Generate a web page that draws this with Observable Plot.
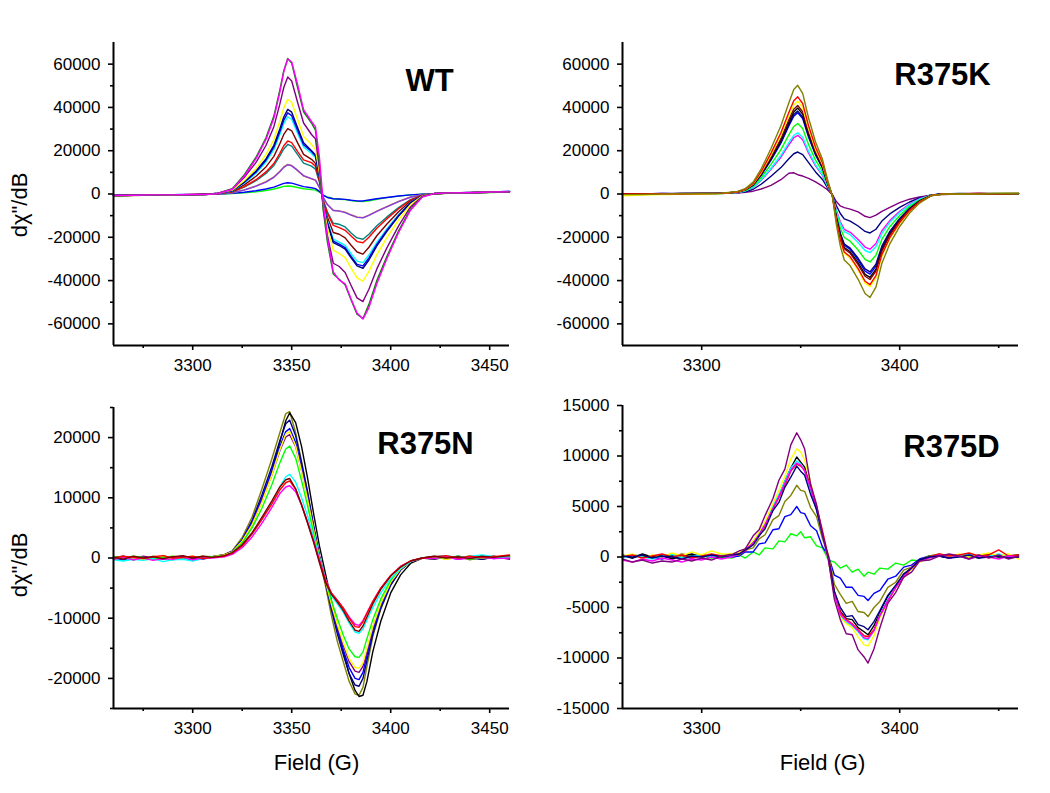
<!DOCTYPE html>
<html>
<head>
<meta charset="utf-8">
<script src="https://cdn.jsdelivr.net/npm/d3@7"></script>
<script src="https://cdn.jsdelivr.net/npm/@observablehq/plot@0.6"></script>
<style>
  html, body { margin: 0; padding: 0; background: #ffffff; }
  #fig { position: relative; width: 1050px; height: 793px; overflow: hidden; background: #fff; }
  .panel { position: absolute; }
</style>
</head>
<body>
<div id="fig"></div>
<script>
// ---------------- DATA (signal values in units of 1000, i.e. ×10^3 dχ"/dB) ----------------

// ---- WT ----
const wtField = [3260,3270,3280,3290,3300,3306, 3312,3320,3326,3332,3337,3341,3344,3346,3348,3350,3353,3356,3360,3362,3364,3366,3368,3371,3374,3377,3380,3383,3386,3389,3393,3398,3404,3410,3416,3422, 3430,3440,3450,3460];
const wtGreen   = [-0.8,-0.6,-0.5,-0.4,-0.3,-0.2, 0.2,2.5,8.8,17,26,36,48,57,62.6,60.5,49,38,32.8,29.5,14,-8,-22,-37,-39.4,-42,-49,-55.5,-57.5,-51,-40,-29,-17,-7,-1.2,0.2, 0.4,0.6,0.8,1.0];
const wtMagenta = [-0.7,-0.6,-0.4,-0.4,-0.2,-0.2, 0.1,2.2,8.2,16.3,25.2,35,47,56.5,62.4,61,50.5,39,33.5,31,17,-5,-20,-36,-39.8,-41.5,-48.5,-55,-57.8,-52.5,-41.5,-30,-17.8,-7.5,-1.4,0.2, 0.5,0.6,0.9,1.0];
const wtPurple  = [-0.8,-0.6,-0.5,-0.3,-0.3,-0.1, 0.2,2.2,7.6,14.6,22.4,31.1,41.5,49.2,54.1,52.2,42.3,32.8,27.5,25.5,12,-7,-19,-32,-33.5,-36.3,-42.3,-48,-49.7,-44,-34.6,-25,-14.7,-6,-1,0.2, 0.5,0.6,0.8,0.9];
const wtYellow  = [-0.9,-0.7,-0.5,-0.4,-0.2,-0.2, 0.2,1.8,6.1,11.8,18.2,25.2,33.6,39.8,43.8,42.3,34.3,26.6,22.9,20.6,9.8,-5.6,-15.4,-25.9,-27.5,-29.4,-34.3,-38.8,-40.2,-35.7,-28,-20.3,-11.9,-4.9,-0.8,0.2, 0.4,0.7,0.8,1.0];
const wtNavy    = [-0.7,-0.6,-0.4,-0.4,-0.3,-0.1, 0.2,1.6,5.5,10.6,16.2,22.5,30,35.6,39.1,37.8,30.6,23.7,20,18,8.5,-5,-13.5,-22.5,-23.8,-25.5,-29.5,-33.2,-34.3,-30.5,-24,-17.4,-10.2,-4.2,-0.7,0.2, 0.5,0.6,0.9,1.1];
const wtBlue    = [-0.8,-0.5,-0.5,-0.3,-0.2,-0.2, 0.2,1.5,5.3,10.1,15.6,21.6,28.8,34.1,37.5,36.2,29.4,22.8,19.6,17.6,8.4,-4.8,-13,-21.8,-23.2,-24.8,-28.8,-32.5,-33.2,-29.5,-23.3,-16.8,-9.9,-4,-0.7,0.2, 0.4,0.7,0.9,1.2];
const wtCyan    = [-0.8,-0.6,-0.5,-0.4,-0.3,-0.2, 0.2,1.4,5,9.6,14.8,20.5,27.4,32.5,35.7,34.5,28,21.7,18.7,16.8,8,-4.5,-12.4,-20.8,-22.2,-23.7,-27.6,-31,-31.7,-28.2,-22.3,-16.2,-9.5,-3.9,-0.7,0.2, 0.4,0.6,0.8,1.0];
const wtBrown   = [-0.7,-0.6,-0.4,-0.3,-0.3,-0.1, 0.1,1.2,4.2,8.2,12.5,17.4,23.2,27.5,30.2,29.2,23.6,18.3,16,14.2,6.8,-3.9,-10.6,-17.8,-18.6,-20.3,-23.7,-26.8,-27.8,-24.6,-19.3,-14,-8.2,-3.4,-0.6,0.1, 0.4,0.6,0.8,1.0];
const wtRed     = [-0.8,-0.6,-0.5,-0.4,-0.2,-0.2, 0.1,1,3.4,6.6,10.2,14.1,18.8,22.3,24.5,23.7,19.6,15.8,14.5,12.8,6,-3.2,-8.8,-14.5,-15.5,-16.8,-19.4,-22,-22.5,-20,-15.8,-11.5,-6.8,-2.8,-0.5,0.1, 0.4,0.6,0.8,1.0];
const wtTeal    = [-0.8,-0.6,-0.5,-0.4,-0.3,-0.2, 0.1,0.9,3.2,6.2,9.5,13.2,17.6,20.8,22.9,22.1,18.2,14.3,12.9,11.5,5.4,-3,-8.2,-13.5,-14,-15.2,-18,-20.3,-20.9,-18.6,-14.7,-10.7,-6.3,-2.6,-0.5,0.1, 0.4,0.6,0.8,0.9];
const wtOrange  = [-0.8,-0.6,-0.5,-0.4,-0.3,-0.2, 0.1,0.6,1.9,3.7,5.7,7.9,10.5,12.5,13.7,13.2,10.8,8.3,7,6.3,3,-1.8,-4.8,-7.5,-7.8,-8.4,-9.6,-10.6,-10.9,-9.8,-7.9,-5.8,-3.4,-1.4,-0.3,0.1, 0.4,0.6,0.8,1.0];
const wtViolet  = [-0.9,-0.7,-0.5,-0.4,-0.3,-0.2, 0.1,0.6,1.8,3.6,5.5,7.7,10.3,12.3,13.5,13,10.9,8.5,7.1,6.4,3.1,-1.7,-4.9,-7.6,-7.9,-8.6,-9.8,-10.8,-11,-9.9,-8,-5.9,-3.5,-1.5,-0.3,0.1, 0.5,0.7,0.9,1.1];
const wtBlue2   = [-0.6,-0.5,-0.4,-0.3,-0.2,-0.1, 0,0.3,0.8,1.5,2.3,3.2,4.2,4.9,5.2,5,4.2,3.4,2.9,2.5,1.2,-0.6,-1.6,-2.2,-2.3,-2.5,-2.9,-3.2,-3.2,-2.8,-2.2,-1.6,-0.9,-0.4,-0.1,0.1, 0.5,0.7,0.9,1.2];
const wtGreen2  = [-0.7,-0.6,-0.5,-0.4,-0.3,-0.2, 0,0.2,0.5,1,1.6,2.3,3,3.5,3.7,3.6,3,2.4,2,1.8,0.9,-0.5,-1.4,-2.2,-2.4,-2.6,-3,-3.4,-3.5,-3.1,-2.4,-1.7,-1,-0.4,-0.1,0.1, 0.3,0.5,0.7,0.9];

// ---- R375K ----
const kField = [3260,3270,3280,3290,3300,3310, 3318,3322,3326,3330,3335,3340,3344,3346.5,3348.5,3351,3354,3357.5,3361,3363.5,3366,3368,3370,3372,3375,3379,3382.5,3385,3388,3391,3395,3400,3405,3410,3416, 3422,3430,3440,3450,3460];
const kOlive   = [-0.3,-0.2,0,0.1,0.2,0.4, 1.2,2.5,5.5,11.5,21,31.5,42,48.3,50.2,46.5,35,24,16,6.8,-1,-14,-24,-30.5,-33.2,-39.4,-46,-47.8,-43,-32,-23,-15,-8.8,-4.2,-0.8, 0,0.1,0,0.2,0.2];
const kRed     = [-0.1,0,0.1,0,0.2,0.3, 1.0,2.2,4.9,10.3,18.9,28.3,37.7,43.1,44.9,41.8,31.4,21.6,14.4,6,-0.9,-12.3,-21.1,-26.8,-29,-34.5,-40.3,-41.9,-37.7,-28,-20.2,-13.2,-7.7,-3.7,-0.7, 0,0.1,0.2,0.1,0.3];
const kYellow  = [-0.8,-0.5,-0.3,-0.1,0,0.2, 1,2.1,4.7,9.8,18,27,36,41.1,42.9,39.9,30,20.6,13.7,5.8,-0.9,-12.6,-21.6,-27.4,-29.7,-35.3,-41.2,-42.8,-38.6,-28.7,-20.6,-13.5,-7.9,-3.8,-0.7, -0.1,0,0.1,0.3,0.2];
const kBrown   = [0,0.1,0,0.2,0.1,0.3, 0.9,2,4.5,9.4,17.1,25.7,34.3,39.2,40.9,38,28.5,19.6,13,5.5,-0.8,-11.6,-19.9,-25.3,-27.4,-32.6,-38,-39.5,-35.6,-26.4,-19,-12.4,-7.3,-3.5,-0.7, 0.1,0,0.2,0.1,0.1];
const kBlack   = [-0.2,0,0.1,0.1,0.2,0.3, 0.9,2,4.3,9.1,16.6,24.9,33.2,37.9,39.7,36.9,27.8,19,12.6,5.3,-0.8,-11.3,-19.4,-24.7,-26.7,-31.8,-37.1,-38.5,-34.7,-25.8,-18.5,-12.1,-7.1,-3.4,-0.6, 0,0.1,0,0.2,0.1];
const kNavy    = [-0.1,0.1,0,0.2,0.2,0.3, 0.9,1.9,4.2,8.8,16,24.1,32.1,36.7,38.3,35.6,26.8,18.4,12.2,5.2,-0.8,-10.6,-18.1,-23.1,-25,-29.7,-34.6,-36,-32.4,-24.1,-17.3,-11.3,-6.6,-3.2,-0.6, 0,0.1,0.1,0,0.2];
const kBlue    = [0,0,0.2,0.1,0.3,0.3, 0.9,1.9,4.1,8.6,15.7,23.5,31.4,35.9,37.5,34.9,26.2,18,12,5,-0.8,-10.9,-18.6,-23.7,-25.6,-30.5,-35.6,-37,-33.3,-24.8,-17.8,-11.6,-6.8,-3.3,-0.6, 0.1,0,0.2,0.1,0.2];
const kGreen   = [-0.2,-0.1,0,0.1,0.1,0.2, 0.8,1.6,3.6,7.5,13.7,20.5,27.3,31.2,32.6,30.3,22.8,15.6,10.4,4.4,-0.7,-9.2,-15.8,-20.1,-21.8,-25.9,-30.2,-31.4,-28.3,-21,-15.1,-9.9,-5.8,-2.8,-0.5, 0,0.1,0,0.1,0.2];
const kCyan    = [-0.1,0,0.1,0,0.2,0.2, 0.7,1.4,3.1,6.5,11.9,17.8,23.7,27.1,28.3,26.2,19.7,13.5,9,3.8,-0.6,-8,-13.7,-17.4,-18.8,-22.4,-26.1,-27.1,-24.4,-18.2,-13.1,-8.5,-5,-2.4,-0.5, 0.1,0,0.1,0.2,0.1];
const kMagenta = [-0.2,-0.1,0,0.1,0.1,0.2, 0.6,1.4,3,6.2,11.4,17,22.7,26,27.1,25.1,18.9,13,8.6,3.6,-0.5,-7.5,-12.8,-16.3,-17.7,-21,-24.5,-25.5,-22.9,-17,-12.3,-8,-4.7,-2.2,-0.4, 0,0.1,0,0.1,0.1];
const kNavy2   = [0,0.1,0,0.2,0.1,0.3, 0.5,1,2.2,4.5,8.2,12.2,16.3,18.6,19.4,18.2,14.5,10.2,6.7,2.9,-0.4,-5.3,-9,-11.5,-12.5,-14.8,-17.3,-18,-16.3,-12.5,-9.2,-6.2,-3.7,-1.8,-0.4, 0,0.2,0.1,0,0.1];
const kPurple  = [0.1,0,0.2,0.1,0.3,0.3, 0.4,0.8,1.3,2.3,4,6.6,9.6,9.8,8.9,8.3,7.2,5.6,3.6,2,-0.3,-3.5,-5.5,-6.3,-7,-8.3,-10.3,-10.9,-9.8,-8,-6.2,-4,-2.4,-1.4,-0.5, -0.2,0,0.1,0,0.1];

// ---- R375N ----
const nField = [3260,3265,3270,3275,3280,3285,3290,3295,3300,3305, 3310,3316,3320,3325,3330,3335,3340,3344,3347,3349,3352,3355,3358,3361,3364,3367,3370,3373,3376,3379,3382,3384,3386,3388,3391,3395,3400,3405,3410,3416, 3422,3428,3434,3440,3446,3452,3460];
const nOlive   = [0.2,-0.3,0.1,-0.2,0.3,0,-0.3,0.2,-0.1,0.3, 0.2,0.6,1.2,3.4,6.8,11.5,16.5,20.8,24,24.3,20.8,16,11,5.2,-0.3,-4.5,-9.5,-13.8,-17.2,-20.5,-22.6,-22.8,-21.5,-18,-13,-8.5,-4.5,-2,-0.6,0, 0.3,-0.2,0.2,-0.3,0.1,0.3,-0.1];
const nBlack   = [0.1,0.3,-0.2,0.2,-0.1,0.3,0.1,-0.2,0.2,0, 0.1,0.4,0.9,2.6,5.5,9.5,14.5,19.2,22.8,24.1,22.5,18.5,13.3,7.5,2,-2.5,-7,-11.5,-15.5,-19.2,-22,-23,-22.8,-20.5,-15.5,-10.5,-5.8,-2.8,-0.9,0, -0.2,0.2,0,0.3,-0.2,0.1,0.2];
const nNavy    = [-0.2,0.1,-0.3,0,-0.2,0.2,-0.1,0.1,-0.3,0.1, 0.2,0.5,1.1,3,6.2,10.5,15.2,19.5,22.3,22.9,20.3,15.8,11,5.5,0.3,-4,-8.5,-12.5,-16,-19.2,-21.1,-21.3,-20,-17,-12.6,-8.3,-4.5,-2,-0.6,0, 0.2,-0.1,0.3,0,-0.2,0.2,0];
const nBlue    = [0,-0.3,0.2,-0.1,0.1,-0.2,0.2,0,0.1,-0.2, 0.2,0.5,1.1,3,6,10,14.5,18.5,21,21.5,19.2,15,10.4,5.2,0.3,-3.8,-8,-11.8,-15.2,-18.2,-20,-20.2,-19,-16.2,-12,-8,-4.3,-1.9,-0.6,0, -0.1,0.2,-0.2,0.1,0.3,-0.1,0.1];
const nPurple  = [0.1,0.2,-0.1,0.3,0,-0.2,0.1,0.3,-0.1,0.2, 0.2,0.5,1,2.8,5.6,9.5,13.8,17.8,20.1,20.5,18.5,14.5,10,5,0.3,-3.6,-7.6,-11.2,-14.4,-17.2,-18.8,-19,-18,-15.5,-11.5,-7.6,-4.1,-1.8,-0.6,0, 0.1,0.3,-0.1,0.2,0,0.3,-0.2];
const nYellow  = [-0.1,0.2,0,-0.3,0.1,0.2,-0.2,0,0.3,-0.1, 0.2,0.5,1,2.8,5.5,9.3,13.8,18,20.6,21,18.6,14.3,9.7,4.7,0,-3.8,-7.6,-11,-14,-16.7,-18.2,-18.3,-17.4,-15,-11.3,-7.5,-4,-1.8,-0.6,0, 0.2,-0.2,0.1,0.3,0,0.2,0.1];
const nGreen   = [0.2,0,0.3,0.1,-0.2,0.1,0.3,-0.1,0.1,0.2, 0.2,0.4,0.9,2.5,5,8.3,12.2,15.8,18.1,18.6,16.6,12.8,8.7,4.2,0,-3.5,-7,-10,-12.8,-15.1,-16.4,-16.5,-15.6,-13.4,-10.2,-6.8,-3.7,-1.6,-0.5,0, -0.1,0.1,0.3,-0.2,0.1,0,0.2];
const nCyan    = [-0.3,-0.5,-0.2,-0.4,-0.1,-0.6,-0.3,-0.2,-0.5,-0.1, 0.1,0.3,0.7,2,4,6.5,9.3,11.8,13.5,13.9,12.6,10,7,3.5,0,-3.5,-6.2,-7.6,-9,-10.8,-12.3,-12.5,-11.8,-10.3,-8.2,-5.8,-3.4,-1.7,-0.6,0, 0.2,0.4,0.1,0.3,0.5,0.2,0.1];
const nBrown   = [0.1,-0.2,0.3,0,0.2,-0.1,0.2,0.4,0,0.3, 0.1,0.4,0.9,2.2,4.2,6.8,9.5,11.8,13,13.2,11.5,8.8,5.8,2.7,-0.8,-4,-6,-7.3,-8.7,-10.5,-12,-12.2,-11.3,-9.8,-7.6,-5.2,-3,-1.5,-0.5,0, 0.3,0,0.2,-0.1,0.3,0.1,0.4];
const nRed     = [0,0.3,0.1,-0.1,0.2,0.4,0,0.1,0.3,-0.1, 0.1,0.3,0.8,2,4,6.4,9,11.3,12.5,12.8,11.4,8.8,5.9,2.8,-0.5,-3.7,-5.8,-7,-8.3,-10,-11.4,-11.5,-10.6,-9.2,-7.2,-5,-2.9,-1.4,-0.5,0, 0.2,0.4,0,0.3,0.1,0.2,0.5];
const nMagenta = [-0.2,0.1,-0.3,0,-0.4,-0.1,-0.2,0.1,-0.3,0, 0,0.2,0.6,1.7,3.5,5.8,8.4,10.7,11.8,12,11,8.8,6,3,-0.3,-3.5,-5.8,-7,-8.3,-9.8,-11,-11.2,-10.4,-9.1,-7.2,-5,-2.9,-1.4,-0.5,0, -0.1,0.2,-0.2,0,0.1,-0.1,0];

// ---- R375D ----
const dField = [3260,3265,3270,3275,3280,3285,3290,3295,3300,3305,3310,3315, 3319,3322,3326,3329,3332,3336,3339,3342,3345,3348,3350,3352,3355,3358,3361,3364,3367,3370,3373,3376,3379,3382,3384,3387,3390,3394,3398,3402,3406,3410,3415, 3420,3425,3430,3435,3440,3445,3450,3455,3460];
const dPurple  = [-0.2,-0.5,-0.3,-0.6,-0.4,-0.5,-0.2,-0.4,-0.1,-0.3,0.1,0.2, 0.6,0.8,2.1,2.7,4.1,5.8,7.6,8.7,11.1,12.3,11.6,10.7,7.2,5.2,2.3,-0.2,-4.2,-6.2,-7.6,-7.7,-9.2,-9.9,-10.5,-9.1,-7.0,-4.6,-3.5,-2.0,-1.5,-0.4,-0.3, 0.1,0.3,0.1,-0.2,0.2,-0.1,0.2,-0.2,0.1];
const dYellow  = [0.1,0.3,-0.2,0.2,0,0.4,0.1,0.5,0.2,0.6,0.3,0.3, 0.5,0.8,1.6,2.5,3.5,5.3,6.6,8.0,9.7,10.7,10.4,9.6,7.4,5.0,2.4,-0.4,-3.9,-6.0,-6.6,-7.0,-7.9,-8.7,-8.8,-7.8,-6.0,-4.4,-3.0,-2.0,-1.2,-0.5,-0.1, 0.2,0.1,0.3,0,0.2,0.4,0.1,0.3,-0.2];
const dBlack   = [0.2,-0.1,0.3,0,0.2,-0.2,0.1,0.3,0,0.2,0.1,0.3, 0.4,0.8,1.4,2.4,3.1,5.0,6.0,7.5,8.8,9.9,9.4,8.9,6.8,4.9,2.2,-0.2,-3.7,-5.4,-6.1,-6.2,-7.0,-7.4,-7.7,-6.8,-5.5,-3.9,-2.9,-1.7,-1.1,-0.3,0, 0.1,-0.1,0.2,0.1,-0.1,0.2,0,0.1,0.2];
const dCyan    = [-0.1,0.2,0,-0.2,0.1,0.3,-0.1,0.1,0.2,0,0.2,0.1, 0.4,0.8,1.6,2.4,3.4,5.1,6.2,7.5,8.8,9.5,9.2,8.5,6.7,4.6,2.2,-0.4,-3.8,-5.8,-6.5,-6.8,-7.4,-8.1,-8.2,-7.3,-5.7,-4.2,-2.9,-1.9,-1.1,-0.4,0, 0.2,0,0.1,0.3,0,0.1,0.3,0,0.1];
const dMagenta = [-0.3,-0.5,-0.2,-0.4,-0.1,-0.3,-0.5,-0.2,-0.3,0,-0.2,0, 0.3,0.7,1.4,2.2,3.2,4.8,6.0,7.3,8.6,9.3,9.1,8.5,6.8,4.7,2.3,-0.3,-3.7,-5.7,-6.3,-6.7,-7.3,-8.0,-8.1,-7.3,-5.8,-4.3,-3.0,-1.9,-1.0,-0.4,-0.1, 0.2,-0.1,0.1,-0.2,0.1,0,-0.2,0.1,0];
const dRed     = [0,0.2,-0.1,0.1,0.3,0,0.2,-0.1,0.1,0.3,0.1,0.2, 0.3,0.6,1.3,2.1,3.1,4.7,5.9,7.1,8.5,9.2,9.0,8.6,7.0,5.0,2.6,0,-3.4,-5.5,-6.2,-6.6,-7.2,-7.8,-7.9,-7.2,-5.8,-4.4,-3.0,-2.0,-1.1,-0.4,0, 0.3,0.1,0.2,0.4,0.1,0.2,0.7,0.1,0.2];
const dNavy    = [0.1,0,0.2,-0.1,0.1,0,-0.2,0.1,0,0.2,0,0.2, 0.3,0.7,1.2,2.1,2.8,4.6,5.4,6.9,7.9,9.0,8.5,8.1,6.2,4.7,2.2,-0.1,-3.4,-5.0,-5.9,-5.8,-6.7,-6.9,-7.2,-6.4,-5.3,-3.8,-2.8,-1.7,-1.1,-0.3,0, 0.1,-0.1,0,0.2,-0.1,0,0.1,-0.1,0];
const dOlive   = [0,0.2,0.1,-0.1,0.2,0,0.3,0.1,0.2,0,0.1,0.2, 0.2,0.7,0.9,1.8,2.2,3.7,4.1,5.5,6.1,7.1,6.6,6.5,4.9,4.0,1.8,0.2,-2.7,-3.7,-4.6,-4.4,-5.4,-5.5,-5.9,-5.0,-4.4,-3.0,-2.5,-1.3,-1.0,-0.3,0.1, 0.3,0.1,0.2,0,0.1,0.3,0.1,0.2,0];
const dBlue    = [0.1,-0.1,0.2,0,-0.2,0.1,0,-0.1,0.2,0,0.1,0, 0.1,0.5,0.5,1.3,1.4,2.7,2.8,4.0,4.2,5.0,4.4,4.3,3.1,2.6,1.0,0.1,-1.8,-2.1,-3.0,-3.0,-3.8,-3.9,-4.3,-3.6,-3.3,-2.2,-1.9,-1.0,-0.8,-0.2,0.1, 0.1,-0.1,0.1,0,0.2,0,0.1,-0.1,0.1];
const dGreen   = [0,0.2,-0.1,0.1,0,0.2,-0.1,0,0.1,-0.1,0,-0.1, 0.2,-0.1,0.5,0.2,0.9,0.8,1.6,1.5,2.3,2.1,2.5,1.9,2.0,1.1,0.9,-0.3,-0.5,-1.1,-0.8,-1.5,-1.2,-1.9,-1.5,-1.7,-1.1,-1.2,-0.6,-0.8,-0.3,-0.4,0.1, 0.1,0,0.1,-0.1,0,0.1,0,0.1,0];

// tick values
const fieldDomain = [3260, 3460];
const xTicksFull = [3300, 3350, 3400, 3450];
const xMinorFull = [3275, 3325, 3375, 3425];
const xTicksHalf = [3300, 3400];
const xMinorHalf = [3350, 3450];
const yTicksTop = [-60000, -40000, -20000, 0, 20000, 40000, 60000];
const yMinorTop = [-50000, -30000, -10000, 10000, 30000, 50000];
const yTicksN = [-20000, -10000, 0, 10000, 20000];
const yMinorN = [-25000, -15000, -5000, 5000, 15000, 25000];
const yTicksD = [-15000, -10000, -5000, 0, 5000, 10000, 15000];
const yMinorD = [-12500, -7500, -2500, 2500, 7500, 12500];

const titles = ["WT", "R375K", "R375N", "R375D"];
const yLabel = "dχ\"/dB";
const xLabel = "Field (G)";

// ---------------- DRAWING ----------------
const FONT = '"Liberation Sans", Arial, Helvetica, sans-serif';

function drawPanel(p) {
  const marks = [];
  for (const [color, vals] of p.series) {
    if (vals.length !== p.field.length) console.error("length mismatch", p.title, color, vals.length, p.field.length);
    const rows = vals.map((v, i) => ({f: p.field[i], v: v * 1000}));
    marks.push(Plot.line(rows, {x: "f", y: "v", stroke: color, strokeWidth: 1.4}));
  }
  marks.push(
    Plot.ruleX([p.xDomain[0]], {stroke: "#000", strokeWidth: 2}),
    Plot.ruleY([p.yDomain[0]], {stroke: "#000", strokeWidth: 2}),
    Plot.axisX({ticks: p.xMajor, tickSize: 5, tickPadding: 8, strokeWidth: 1.6, tickFormat: d => String(d), fontSize: 17, label: null}),
    Plot.axisX({ticks: p.xMinor, tickSize: 3, tickPadding: 0, strokeWidth: 1.6, tickFormat: () => "", label: null}),
    Plot.axisY({ticks: p.yMajor, tickSize: 5, tickPadding: 8, strokeWidth: 1.6, tickFormat: d => String(d), fontSize: 17, label: null}),
    Plot.axisY({ticks: p.yMinor, tickSize: 3, tickPadding: 0, strokeWidth: 1.6, tickFormat: () => "", label: null}),
    Plot.text([p.title], {frameAnchor: "top-left", dx: p.titleDx, dy: p.titleDy, text: d => d, fontSize: 31, fontWeight: "bold", textAnchor: "middle", lineAnchor: "middle", fill: "#000"})
  );
  if (p.showY) {
    marks.push(Plot.text([yLabel], {frameAnchor: "left", dx: -94, dy: p.yLabelDy, rotate: -90, text: d => d, fontSize: 22, textAnchor: "middle", lineAnchor: "middle", fill: "#000"}));
  }
  if (p.showX) {
    marks.push(Plot.text([xLabel], {frameAnchor: "bottom", dx: p.xLabelDx, dy: 54, text: d => d, fontSize: 22, textAnchor: "middle", lineAnchor: "middle", fill: "#000"}));
  }
  const svg = Plot.plot({
    width: 525,
    height: 400,
    marginLeft: p.ml, marginRight: p.mr, marginTop: p.mt, marginBottom: p.mb,
    x: {domain: p.xDomain},
    y: {domain: p.yDomain},
    style: {fontFamily: FONT, background: "transparent", overflow: "visible", color: "#000"},
    marks
  });
  const div = document.createElement("div");
  div.className = "panel";
  div.style.left = p.left + "px";
  div.style.top = p.top + "px";
  div.appendChild(svg);
  document.getElementById("fig").appendChild(div);
}

drawPanel({
  title: titles[0], left: 0, top: 0, ml: 113, mr: 16, mt: 42, mb: 55,
  field: wtField, xDomain: fieldDomain, yDomain: [-70000, 70000],
  xMajor: xTicksFull, xMinor: xMinorFull, yMajor: yTicksTop, yMinor: yMinorTop,
  titleDx: 316, titleDy: 39, showY: true, yLabelDy: 11, showX: false,
  series: [["#00ff00", wtGreen2], ["#0000ff", wtBlue2], ["#cc8833", wtOrange], ["#8a3ee0", wtViolet],
           ["#008080", wtTeal], ["#ff0000", wtRed], ["#800000", wtBrown], ["#00ffff", wtCyan],
           ["#0000ff", wtBlue], ["#000080", wtNavy], ["#ffff00", wtYellow], ["#800080", wtPurple],
           ["#008000", wtGreen], ["#ff00ff", wtMagenta]]
});

drawPanel({
  title: titles[1], left: 525, top: 0, ml: 97, mr: 32, mt: 42, mb: 55,
  field: kField, xDomain: fieldDomain, yDomain: [-70000, 70000],
  xMajor: xTicksHalf, xMinor: xMinorHalf, yMajor: yTicksTop, yMinor: yMinorTop,
  titleDx: 320, titleDy: 33, showY: false, showX: false,
  series: [["#800080", kPurple], ["#000080", kNavy2], ["#ff00ff", kMagenta], ["#00ffff", kCyan],
           ["#00ff00", kGreen], ["#0000ff", kBlue], ["#000080", kNavy], ["#000000", kBlack],
           ["#800000", kBrown], ["#ffff00", kYellow], ["#ff0000", kRed], ["#808000", kOlive]]
});

drawPanel({
  title: titles[2], left: 0, top: 393, ml: 113, mr: 16, mt: 14, mb: 85,
  field: nField, xDomain: fieldDomain, yDomain: [-25000, 25000],
  xMajor: xTicksFull, xMinor: xMinorFull, yMajor: yTicksN, yMinor: yMinorN,
  titleDx: 312, titleDy: 37, showY: true, yLabelDy: 7, showX: true, xLabelDx: 5,
  series: [["#808000", nOlive], ["#000000", nBlack], ["#000080", nNavy], ["#0000ff", nBlue],
           ["#800080", nPurple], ["#ffff00", nYellow], ["#00ff00", nGreen], ["#00ffff", nCyan],
           ["#ff00ff", nMagenta], ["#ff0000", nRed], ["#800000", nBrown]]
});

drawPanel({
  title: titles[3], left: 525, top: 393, ml: 97, mr: 32, mt: 12, mb: 85,
  field: dField, xDomain: fieldDomain, yDomain: [-15000, 15000],
  xMajor: xTicksHalf, xMinor: xMinorHalf, yMajor: yTicksD, yMinor: yMinorD,
  titleDx: 329, titleDy: 42, showY: false, showX: true, xLabelDx: 2,
  series: [["#00ff00", dGreen], ["#0000ff", dBlue], ["#808000", dOlive], ["#000000", dBlack],
           ["#00ffff", dCyan], ["#ffff00", dYellow], ["#ff0000", dRed], ["#ff00ff", dMagenta],
           ["#000080", dNavy], ["#800080", dPurple]]
});
</script>
</body>
</html>
